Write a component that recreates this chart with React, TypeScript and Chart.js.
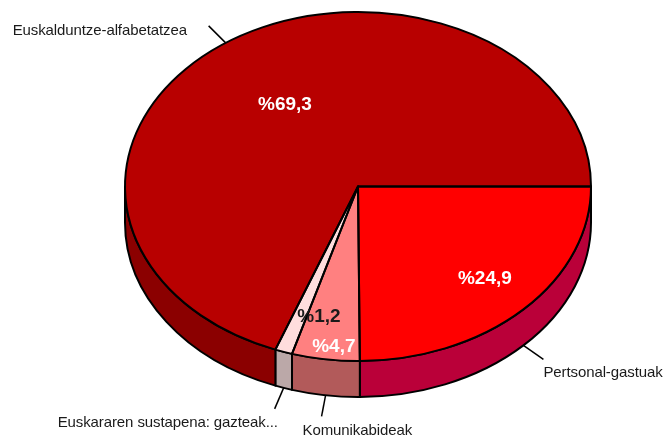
import React, { useEffect, useRef } from "react";
import { Chart, registerables } from "chart.js";

Chart.register(...registerables);

const categories = ["Pertsonal-gastuak", "Komunikabideak", "Euskararen sustapena: gazteak...", "Euskalduntze-alfabetatzea"];
const values = [24.9, 4.7, 1.2, 69.3];
const valueLabels = ["%24,9", "%4,7", "%1,2", "%69,3"];
const topColors = ["#FF0000", "#FF8080", "#FFDDDD", "#B80000"];
const wallColors = ["#BA0039", "#B25A5A", "#BBA8A8", "#8B0000"];
const valueLabelColors = ["#FFFFFF", "#FFFFFF", "#1A1A1A", "#FFFFFF"];
// how far out along the slice's middle the value label sits
const valueLabelRadial = [0.755, 0.93, 0.78, 0.567];
const valueLabelShift = [[2, -1], [6, 0], [19, 1], [2, 0]];

const squeeze = 233 / 174.5;
const depth = 36;
// leader tail vector and text anchor relative to the tail's end
const leaderTail = [[20, 14], [-4, 21], [-9, 21], [-17, -17]];
const textOffset = [[0, 13], [-19, 15], [-217, 14], [-196, 5]];

const pie3d = {
  id: "pie3d",
  beforeDatasetsDraw(chart: any) {
    const { ctx } = chart;
    const arcs = chart.getDatasetMeta(0).data;
    const cx = arcs[0].x, cy = arcs[0].y, ry = arcs[0].outerRadius, rx = ry * squeeze;
    ctx.save();
    ctx.lineWidth = 2;
    ctx.strokeStyle = "#000";
    ctx.lineJoin = "round";
    arcs.forEach((a: any, i: number) => {
      const s = Math.max(a.startAngle, 0);
      const e = Math.min(a.endAngle, Math.PI);
      if (e <= s) return;
      ctx.beginPath();
      ctx.ellipse(cx, cy, rx, ry, 0, s, e);
      ctx.ellipse(cx, cy + depth, rx, ry, 0, e, s, true);
      ctx.closePath();
      ctx.fillStyle = wallColors[i];
      ctx.fill();
      ctx.stroke();
    });
    ctx.restore();
    ctx.save();
    ctx.translate(cx, cy);
    ctx.scale(squeeze, 1);
    ctx.translate(-cx, -cy);
  },
  afterDatasetsDraw(chart: any) {
    const { ctx } = chart;
    ctx.restore();
    const arcs = chart.getDatasetMeta(0).data;
    const cx = arcs[0].x, cy = arcs[0].y, ry = arcs[0].outerRadius, rx = ry * squeeze;
    ctx.save();
    ctx.lineWidth = 2;
    ctx.strokeStyle = "#000";
    ctx.lineJoin = "round";
    arcs.forEach((a: any) => {
      ctx.beginPath();
      ctx.moveTo(cx, cy);
      ctx.ellipse(cx, cy, rx, ry, 0, a.startAngle, a.endAngle);
      ctx.closePath();
      ctx.stroke();
    });

    arcs.forEach((a: any, i: number) => {
      const mid = (a.startAngle + a.endAngle) / 2;
      const px = cx + rx * Math.cos(mid);
      const py = cy + ry * Math.sin(mid) + (Math.sin(mid) > 0 ? depth : 0);
      const ex = px + leaderTail[i][0];
      const ey = py + leaderTail[i][1];
      ctx.beginPath();
      ctx.moveTo(px, py);
      ctx.lineTo(ex, ey);
      ctx.lineWidth = 1.5;
      ctx.strokeStyle = "#000";
      ctx.stroke();
      ctx.font = '15px "Liberation Sans"';
      (ctx as any).letterSpacing = "-0.1px";
      ctx.fillStyle = "#1A1A1A";
      ctx.textAlign = "left";
      ctx.textBaseline = "middle";
      ctx.fillText(categories[i], ex + textOffset[i][0], ey + textOffset[i][1]);

      const f = valueLabelRadial[i];
      (ctx as any).letterSpacing = "0px";
      ctx.font = 'bold 19px "Liberation Sans"';
      ctx.fillStyle = valueLabelColors[i];
      ctx.textAlign = "center";
      ctx.fillText(
        valueLabels[i],
        cx + rx * f * Math.cos(mid) + valueLabelShift[i][0],
        cy + ry * f * Math.sin(mid) + valueLabelShift[i][1]
      );
    });
    ctx.restore();
  },
};

export default function App() {
  const ref = useRef<HTMLCanvasElement>(null);
  useEffect(() => {
    const chart = new Chart(ref.current!, {
      type: "pie",
      data: {
        labels: categories,
        datasets: [{ data: values, backgroundColor: topColors, borderWidth: 0, clip: false } as any],
      },
      options: {
        responsive: false,
        animation: false,
        rotation: 90,
        layout: { padding: { left: 183.5, right: 135.5, top: 12, bottom: 76 } },
        plugins: { legend: { display: false }, tooltip: { enabled: false } },
        events: [],
      },
      plugins: [pie3d],
    } as any);
    return () => chart.destroy();
  }, []);
  return (
    <div style={{ position: "absolute", left: 0, top: 0, width: 668, height: 437, background: "#fff" }}>
      <canvas ref={ref} width={668} height={437} style={{ display: "block" }} />
    </div>
  );
}
